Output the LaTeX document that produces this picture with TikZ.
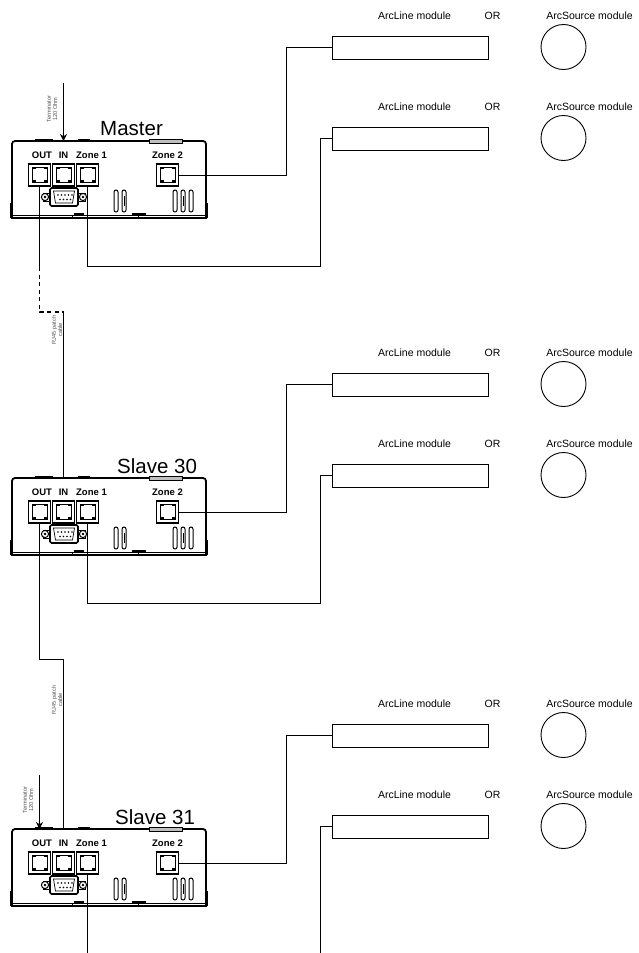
\documentclass[tikz,border=0pt]{standalone}
\usepackage{fontspec}
\setmainfont{Liberation Sans}
\usetikzlibrary{arrows.meta,calc}
\tikzset{
  wire/.style={line width=0.8pt},
  dwire/.style={line width=1.6pt, dash pattern=on 4pt off 3.5pt},
  modbox/.style={draw, line width=1pt, minimum width=156pt, minimum height=23pt, inner sep=0pt},
  modcirc/.style={draw, circle, line width=0.9pt, minimum size=45pt, inner sep=0pt},
  modlbl/.style={font=\fontsize{10.5}{12}\selectfont, inner sep=0pt},
  devlbl/.style={font=\fontsize{20.5}{24}\selectfont, anchor=west, inner sep=0pt},
  portlbl/.style={font=\bfseries\fontsize{9.5}{10}\selectfont, inner sep=0pt},
  tinylbl/.style={font=\fontsize{5.6}{6.2}\selectfont, align=center, rotate=90, inner sep=0pt, text=black!70},
  jack/.style={draw, line width=1.4pt, minimum width=22pt, minimum height=22pt, inner sep=0pt,
    path picture={
      \draw[line width=0.6pt] ([shift={(3.5pt,3.5pt)}]path picture bounding box.south west)
        rectangle ([shift={(-3.5pt,-3.5pt)}]path picture bounding box.north east);
      \fill ([shift={(3pt,3pt)}]path picture bounding box.south west) rectangle ++(4pt,3pt);
      \fill ([shift={(-3pt,3pt)}]path picture bounding box.south east) rectangle ++(-4pt,3pt);
      \fill ([shift={(4pt,-3pt)}]path picture bounding box.north west) rectangle ++(3pt,-2pt);
      \fill ([shift={(-4pt,-3pt)}]path picture bounding box.north east) rectangle ++(-3pt,-2pt);
    }},
  ctrl/.pic={
    % housing
    \draw[line width=1.8pt, rounded corners=3pt] (0,74) -- (0,0) -- (194,0) -- (194,74);
    \draw[line width=1pt] (0,74) -- (194,74);
    \draw[line width=1.3pt] (-1,77) -- (195,77);
    \fill (-2,62) rectangle (1,77);
    \fill (193,62) rectangle (196,77);
    \draw[line width=0.6pt] (60,74) -- (60,77) (126,74) -- (126,77);
    \draw[line width=1.8pt] (62,73) -- (72,73) (120,73) -- (134,73);
    % top tabs
    \draw[line width=2.2pt] (23,-1) -- (41,-1);
    \draw[line width=2.2pt] (66,-1) -- (78,-1);
    \draw[line width=0.8pt, fill=black!25] (137,-1.5) rectangle (170,2);
    % port labels
    \node[portlbl] (-outlbl) at (30,14) {OUT};
    \node[portlbl] (-inlbl) at (51.5,14) {IN};
    \node[portlbl] (-z1lbl) at (79.5,14) {Zone 1};
    \node[portlbl] (-z2lbl) at (155.5,14) {Zone 2};
    % jacks
    \node[jack] (-out) at (27.5,34) {};
    \node[jack] (-in) at (51.5,34) {};
    \node[jack] (-z1) at (75.5,34) {};
    \node[jack] (-z2) at (155.5,34) {};
    \coordinate (-intop) at (51.5,0);
    \coordinate (-outtop) at (27.5,0);
    % DB9
    \draw[line width=0.8pt, fill=white] (31,52) rectangle (73,60);
    \draw[line width=1.6pt, fill=white, rounded corners=1.5pt] (38,47) rectangle (66,65);
    \draw[line width=0.7pt] (41.5,50) -- (62.5,50) -- (60.5,62) -- (43.5,62) -- cycle;
    \foreach \px in {46,49.5,53,56.5,60} \fill (\px,54) circle (0.8);
    \foreach \px in {48,51.5,55,58.5} \fill (\px,58.5) circle (0.8);
    \foreach \sx in {33,71} {
      \draw[line width=1pt, fill=white] (\sx,56) circle (3.6);
      \fill (\sx,56) circle (1.4);
    }
    % ventilation slots
    \foreach \vx in {104,112,163,171,179}
      \draw[line width=1pt, rounded corners=2pt] (\vx-2,49) rectangle (\vx+2,71);
    \draw[line width=0.6pt] (112,55) -- (112,65) (171,55) -- (171,65);
  },
  modules/.pic={
    \node[modlbl] (-l1) at (414.5,16) {ArcLine module};
    \node[modlbl] (-or1) at (492.5,16) {OR};
    \node[modlbl] (-s1) at (589.5,16) {ArcSource module};
    \node[modbox] (-b1) at (410,47.5) {};
    \node[modcirc] (-c1) at (563.5,47) {};
    \node[modlbl] (-l2) at (414.5,107) {ArcLine module};
    \node[modlbl] (-or2) at (492.5,107) {OR};
    \node[modlbl] (-s2) at (589.5,107) {ArcSource module};
    \node[modbox] (-b2) at (410,138.5) {};
    \node[modcirc] (-c2) at (563.5,138) {};
  }
}
\begin{document}
\begin{tikzpicture}[x=1pt,y=-1pt]
\useasboundingbox (0,0) rectangle (638,953);

% controllers
\pic (m) at (12,141) {ctrl};
\pic (sa) at (12,478) {ctrl};
\pic (sb) at (12,829) {ctrl};

\node[devlbl] (mlbl) at (100,129) {Master};
\node[devlbl] (salbl) at (117,466) {Slave 30};
\node[devlbl] (sblbl) at (115,817) {Slave 31};

% module groups
\pic (gm) at (0,0) {modules};
\pic (ga) at (0,337) {modules};
\pic (gb) at (0,688) {modules};

% terminators
\coordinate (tm) at (63.5,83);
\draw[wire,-{Stealth[length=7pt,width=7pt]}] (tm) -- (m-intop);
\node[tinylbl] (tmlbl) at (52,109) {Terminator\\120 Ohm};
\coordinate (tb) at (39.5,775);
\draw[wire,-{Stealth[length=7pt,width=7pt]}] (tb) -- (sb-outtop);
\node[tinylbl] (tblbl) at (28,800) {Terminator\\120 Ohm};

% bus Master -> Slave 30
\coordinate (d1) at (39.5,267);
\coordinate (d2) at (63.5,312);
\draw[wire] (m-out.south) -- (d1);
\draw[dwire] (d1) |- (d2);
\draw[wire] (d2) -- (sa-intop);
\node[tinylbl] (calbl) at (57,330) {RJ45 patch\\cable};

% bus Slave 30 -> Slave 31
\draw[wire] (sa-out.south) -- ++(0,136) -| (sb-intop);
\node[tinylbl] (cblbl) at (57,700) {RJ45 patch\\cable};

% zone wiring Master
\draw[wire] (m-z2.east) -| ([xshift=-45pt]gm-b1.west) -- (gm-b1.west);
\draw[wire] (m-z1.south) -- ++(0,80) -| ([xshift=-11pt]gm-b2.west) -- (gm-b2.west);

% zone wiring Slave 30
\draw[wire] (sa-z2.east) -| ([xshift=-45pt]ga-b1.west) -- (ga-b1.west);
\draw[wire] (sa-z1.south) -- ++(0,80) -| ([xshift=-11pt]ga-b2.west) -- (ga-b2.west);

% zone wiring Slave 31
\coordinate (bot) at (0,953);
\draw[wire] (sb-z2.east) -| ([xshift=-45pt]gb-b1.west) -- (gb-b1.west);
\draw[wire] (sb-z1.south) -- (sb-z1.south |- bot);
\draw[wire] (gb-b2.west) -- ++(-11,0) coordinate (k) -- (k |- bot);
\end{tikzpicture}
\end{document}
